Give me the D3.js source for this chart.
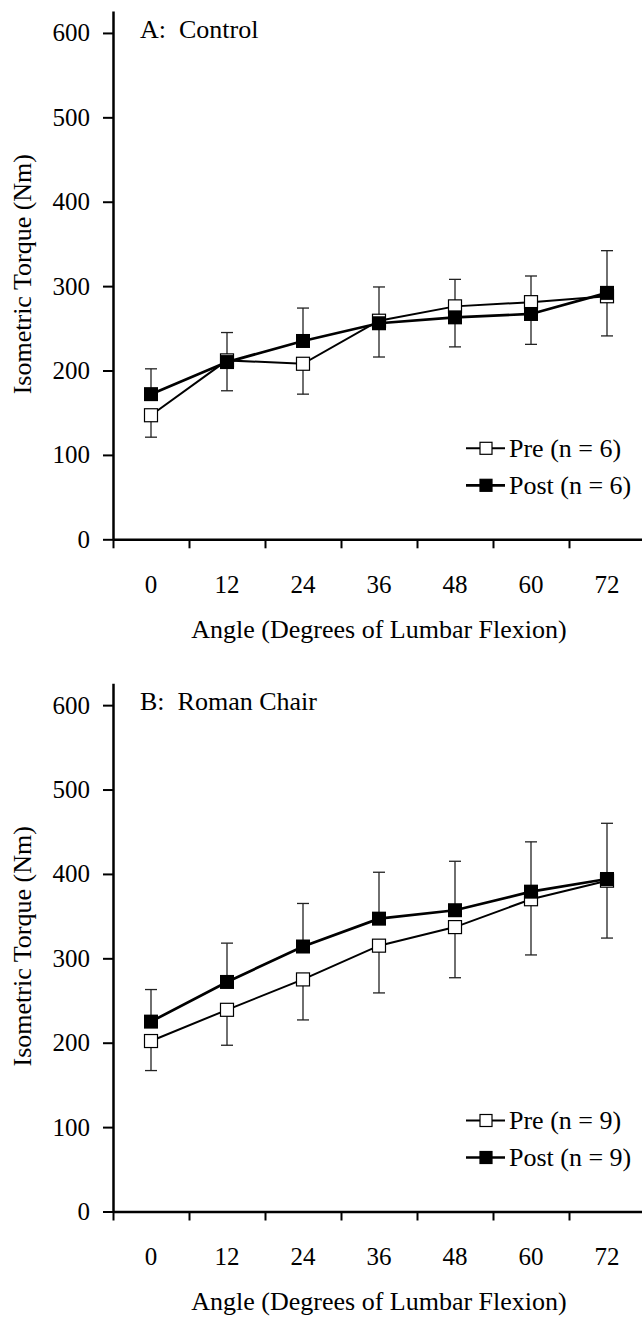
<!DOCTYPE html>
<html>
<head>
<meta charset="utf-8">
<script src="https://cdn.jsdelivr.net/npm/d3@7"></script>
<style>
  body { margin: 0; background: #fff; }
  svg { display: block; font-family: "Liberation Serif", "Times New Roman", serif; }
</style>
</head>
<body>
<div id="content"></div>
<script>
// angles of lumbar flexion (x categories)
const angles = ["0", "12", "24", "36", "48", "60", "72"];
const yTicks = [0, 100, 200, 300, 400, 500, 600];

const titles = ["A:  Control", "B:  Roman Chair"];
const groupN = [6, 9];

// panel A: control
const preA      = [147, 212, 208, 259, 276, 281, 288];
const preErrA   = [26, 36, 36, 43, 48, 50, 47];
const postA     = [172, 210, 235, 256, 263, 267, 292];
const postErrA  = [30, 35, 39, 43, 45, 45, 50];

// panel B: roman chair
const preB      = [202, 239, 275, 315, 337, 370, 392];
const preErrB   = [35, 42, 48, 56, 60, 66, 68];
const postB     = [225, 272, 314, 347, 357, 379, 394];
const postErrB  = [38, 46, 51, 55, 58, 59, 66];

const width = 642, height = 1318;

const svg = d3.select("#content").append("svg")
  .attr("width", width)
  .attr("height", height);

const panels = [
  { title: titles[0], n: groupN[0], pre: preA, preErr: preErrA, post: postA, postErr: postErrA, zero: 539.3 },
  { title: titles[1], n: groupN[1], pre: preB, preErr: preErrB, post: postB, postErr: postErrB, zero: 1211.5 }
];

const left = 113, right = 645, plotH = 528.3;

panels.forEach(p => drawPanel(p));

function drawPanel(p){
  const g = svg.append("g").attr("transform", "translate(0," + (p.zero - plotH) + ")");

  const y = d3.scaleLinear().domain([0, 626]).range([plotH, 0]);
  const x = d3.scaleBand().domain(angles).range([left, right]);
  const xb = d3.scaleLinear().domain([0, angles.length]).range([left, right]);
  const cx = d => x(d) + x.bandwidth() / 2;

  // y axis
  const yAxis = g.append("g")
    .attr("transform", "translate(" + left + ",0)")
    .call(d3.axisLeft(y).tickValues(yTicks).tickSize(10).tickPadding(13).tickSizeOuter(0));
  yAxis.select(".domain").attr("stroke-width", 2.5);
  yAxis.selectAll(".tick line").attr("stroke-width", 2);
  yAxis.selectAll("text").attr("font-size", 25).attr("font-family", "Liberation Serif, serif").attr("fill", "#000");

  // x axis with boundary ticks
  const xAxis = g.append("g")
    .attr("transform", "translate(0," + plotH + ")")
    .call(d3.axisBottom(xb).tickValues(d3.range(angles.length + 1)).tickSize(9).tickSizeOuter(0).tickFormat(""));
  xAxis.select(".domain").attr("stroke-width", 2.5);
  xAxis.selectAll(".tick line").attr("stroke-width", 2);

  const xLab = g.append("g")
    .attr("transform", "translate(0," + plotH + ")")
    .call(d3.axisBottom(x).tickSize(0).tickPadding(36));
  xLab.select(".domain").remove();
  xLab.selectAll("text").attr("font-size", 25).attr("font-family", "Liberation Serif, serif").attr("fill", "#000");

  // axis titles
  g.append("text")
    .attr("x", 379).attr("y", plotH + 99)
    .attr("text-anchor", "middle")
    .attr("font-size", 26)
    .text("Angle (Degrees of Lumbar Flexion)");

  g.append("text")
    .attr("transform", "translate(31," + (plotH / 2 - 1) + ") rotate(-90)")
    .attr("text-anchor", "middle")
    .attr("font-size", 26)
    .text("Isometric Torque (Nm)");

  g.append("text")
    .attr("x", 140).attr("y", plotH - 501)
    .attr("font-size", 26)
    .style("white-space", "pre")
    .text(p.title);

  // error bars: pre downward, post upward
  const bars = [
    { vals: p.pre, err: p.preErr, sign: -1 },
    { vals: p.post, err: p.postErr, sign: 1 }
  ];
  bars.forEach(b => {
    const eg = g.append("g").attr("stroke", "#222").attr("stroke-width", 1.3);
    eg.selectAll(".ev").data(angles).enter().append("line")
      .attr("x1", d => cx(d)).attr("x2", d => cx(d))
      .attr("y1", (d, i) => y(b.vals[i]))
      .attr("y2", (d, i) => y(b.vals[i] + b.sign * b.err[i]));
    eg.selectAll(".ec").data(angles).enter().append("line")
      .attr("x1", d => cx(d) - 6).attr("x2", d => cx(d) + 6)
      .attr("y1", (d, i) => y(b.vals[i] + b.sign * b.err[i]))
      .attr("y2", (d, i) => y(b.vals[i] + b.sign * b.err[i]));
  });

  const line = d3.line().x((d, i) => cx(angles[i])).y(d => y(d));

  g.append("path").datum(p.pre)
    .attr("d", line).attr("fill", "none").attr("stroke", "#000").attr("stroke-width", 2);
  g.append("path").datum(p.post)
    .attr("d", line).attr("fill", "none").attr("stroke", "#000").attr("stroke-width", 2.7);

  const s = 14;
  g.selectAll(".pre").data(p.pre).enter().append("rect")
    .attr("x", (d, i) => cx(angles[i]) - s / 2 + 0.5)
    .attr("y", d => y(d) - s / 2 + 0.5)
    .attr("width", s - 1).attr("height", s - 1)
    .attr("fill", "#fff").attr("stroke", "#000").attr("stroke-width", 1.2);
  g.selectAll(".post").data(p.post).enter().append("rect")
    .attr("x", (d, i) => cx(angles[i]) - s / 2)
    .attr("y", d => y(d) - s / 2)
    .attr("width", s).attr("height", s)
    .attr("fill", "#000");

  // legend
  const leg = [
    { label: "Pre (n = " + p.n + ")", fill: "#fff", dy: -91, w: 2 },
    { label: "Post (n = " + p.n + ")", fill: "#000", dy: -54, w: 2.7 }
  ];
  leg.forEach(l => {
    const ly = plotH + l.dy;
    g.append("line")
      .attr("x1", 466).attr("x2", 505).attr("y1", ly).attr("y2", ly)
      .attr("stroke", "#000").attr("stroke-width", l.w);
    g.append("rect")
      .attr("x", 486 - 6).attr("y", ly - 6).attr("width", 12).attr("height", 12)
      .attr("fill", l.fill).attr("stroke", "#000").attr("stroke-width", 1.2);
    g.append("text")
      .attr("x", 509).attr("y", ly + 9)
      .attr("font-size", 26)
      .text(l.label);
  });
}
</script>
</body>
</html>
